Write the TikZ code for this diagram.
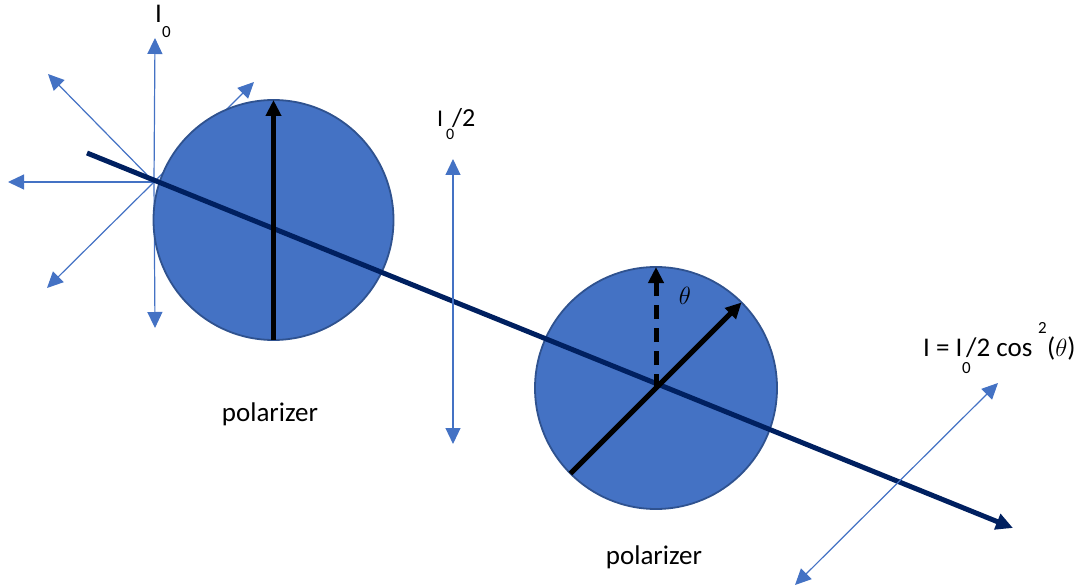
\documentclass[tikz,border=0pt]{standalone}
\usepackage{fontspec}
\setmainfont{Carlito}
\usetikzlibrary{arrows.meta}
\definecolor{pblue}{HTML}{4472C4}
\definecolor{pedge}{HTML}{2F528F}
\definecolor{beamc}{HTML}{002060}
\begin{document}
\begin{tikzpicture}[x=1pt,y=-1pt,
  ray/.style={draw=pblue,line width=1.2pt,-{Triangle[length=16pt,width=15pt]}},
  dray/.style={draw=pblue,line width=1.2pt,{Triangle[length=16pt,width=15pt]}-{Triangle[length=16pt,width=15pt]}},
  disc/.style={circle,fill=pblue,draw=pedge,line width=1.8pt,inner sep=0pt,outer sep=0pt},
  axis/.style={draw=black,line width=5pt,-{Triangle[length=16pt,width=15pt]}},
  beam/.style={draw=beamc,line width=5pt,-{Triangle[length=17pt,width=16pt]}},
  lbl/.style={inner sep=0pt,anchor=base,font=\fontsize{27}{32}\selectfont},
  sub/.style={inner sep=0pt,anchor=base west,font=\fontsize{17}{20}\selectfont}]
\useasboundingbox (0,0) rectangle (1081,588);
% star of polarisation directions
\coordinate (s) at (154,182);
\coordinate (sU) at (155,38);
\coordinate (sD) at (155,328);
\coordinate (sL) at (8,182);
\coordinate (sUL) at (48,74);
\coordinate (sDL) at (47,288);
\coordinate (sUR) at (254,82);
\draw[ray] (s) -- (sU);
\draw[ray] (s) -- (sD);
\draw[ray] (s) -- (sL);
\draw[ray] (s) -- (sUL);
\draw[ray] (s) -- (sDL);
\draw[ray] (s) -- (sUR);
% polarizers
\node[disc,minimum size=240pt] (p1) at (273.5,220) {};
\node[disc,minimum size=242pt] (p2) at (656,388) {};
% beam
\coordinate (b0) at (87,153);
\coordinate (b1) at (1013,528);
\draw[beam] (b0) -- (b1);
% polarizer axes
\draw[axis] (p1.south) -- (p1.north);
\draw[axis,dash pattern=on 14pt off 9pt] (p2.center) -- (p2.north);
\draw[axis] (p2.-135) -- (p2.45);
\node[inner sep=0pt,font=\fontsize{28}{32}\selectfont] (th) at (685,296) {$\theta$};
% middle and output polarisation
\coordinate (mT) at (453,159);
\coordinate (mB) at (453,444);
\draw[dray] (mB) -- (mT);
\coordinate (oT) at (998,383);
\coordinate (oB) at (795,585);
\draw[dray] (oB) -- (oT);
% labels
\node[lbl,anchor=base west] (i0) at (155,23) {I};
\node[sub] (i0s) at (162,38) {0};
\node[lbl,anchor=base west,font=\fontsize{24}{28}\selectfont] (h0) at (437,127) {I};
\node[sub,font=\fontsize{16}{19}\selectfont] (h0s) at (446,140) {0};
\node[lbl,anchor=base west,font=\fontsize{26}{30}\selectfont] (h1) at (452,127) {/2};
\node[lbl] (pol1) at (270,421) {polarizer};
\node[lbl] (pol2) at (654,564) {polarizer};
\node[lbl,anchor=base west] (f1) at (923,356) {I = I};
\node[sub] (f2) at (962,373) {0};
\node[lbl,anchor=base west] (f3) at (966,356) {/2 cos};
\node[sub] (f4) at (1038,333) {2};
\node[lbl,anchor=base west] (f5) at (1047,356) {($\theta$)};
\end{tikzpicture}
\end{document}
